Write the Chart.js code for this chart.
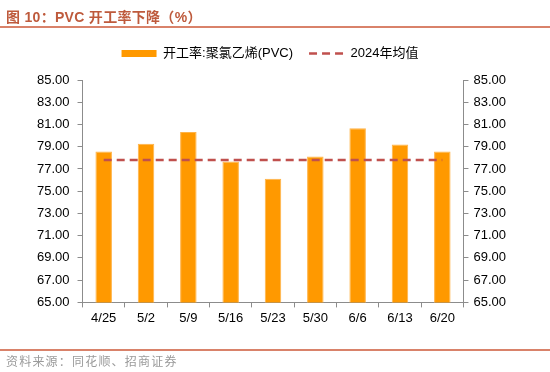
<!DOCTYPE html>
<html><head><meta charset="utf-8">
<script src="https://cdn.jsdelivr.net/npm/chart.js@4/dist/chart.umd.min.js"></script>
<style>
html,body{margin:0;padding:0;background:#fff;}
#wrap{position:relative;width:550px;height:372px;overflow:hidden;}
#title{position:absolute;left:6px;top:6px;font:bold 14px "Liberation Sans","Noto Sans CJK SC",sans-serif;color:#BE5A3C;letter-spacing:0.3px;white-space:nowrap;}
#tline{position:absolute;left:0;top:26px;width:550px;height:2px;background:#D9826A;}
#bline{position:absolute;left:0;top:349px;width:550px;height:2px;background:#D9826A;}
#foot{position:absolute;left:6px;top:352px;font:12px "Noto Sans CJK SC",sans-serif;color:#9a9a9a;letter-spacing:1.2px;white-space:nowrap;}
#c{position:absolute;left:0;top:0;}
</style></head>
<body><div id="wrap">
<canvas id="c" width="550" height="372"></canvas>
<div id="title">图 10：PVC 开工率下降（%）</div>
<div id="tline"></div>
<div id="bline"></div>
<div id="foot">资料来源：同花顺、招商证券</div>
</div>
<script>
const categories = ["4/25","5/2","5/9","5/16","5/23","5/30","6/6","6/13","6/20"];
const pvcRate = [78.58, 79.27, 80.32, 77.66, 76.11, 78.13, 80.67, 79.21, 78.58];
const avg2024 = [77.81, 77.81, 77.81, 77.81, 77.81, 77.81, 77.81, 77.81, 77.81];
const seriesNames = ["开工率:聚氯乙烯(PVC)", "2024年均值"];

const font = {family: '"Liberation Sans","Noto Sans CJK SC",sans-serif', size: 13};
const axisColor = '#8c8c8c';

const legendSpacer = {
  id:'legendSpacer',
  beforeInit(chart){
    const orig = chart.legend.fit;
    chart.legend.fit = function(){ orig.bind(chart.legend)(); this.height += 10; };
  }
};

new Chart(document.getElementById('c'), {
  plugins:[legendSpacer],
  data: {
    labels: categories,
    datasets: [
      {type:'bar', label: seriesNames[0], data: pvcRate, backgroundColor:'#FF9900', borderColor:'#FFB347', borderWidth:{left:1,right:1,top:1,bottom:0},
       categoryPercentage:1, barPercentage:0.39, yAxisID:'y', order:2},
      {type:'line', label: seriesNames[1], data: avg2024, borderColor:'#C0504D', backgroundColor:'#C0504D', borderWidth:2.6,
       borderDash:[8,5], pointRadius:0, fill:false, yAxisID:'y', order:1}
    ]
  },
  options: {
    responsive:false, animation:false,
    layout:{padding:{left:29, right:39, top:31, bottom:43}},
    plugins:{
      tooltip:{enabled:false},
      legend:{
        position:'top',
        labels:{
          font: font, color:'#000', boxHeight:7, usePointStyle:true, pointStyleWidth:35, padding:16,
          generateLabels(chart){
            return chart.data.datasets.map((d,i)=>({
              text:d.label, datasetIndex:i,
              fillStyle: d.backgroundColor, strokeStyle: d.borderColor,
              lineWidth: i===0?0:2.6, lineDash: i===0?[]:[8,5],
              pointStyle: i===0?'rect':'line', fontColor:'#000'
            }));
          }
        }
      }
    },
    scales:{
      x:{
        offset:true,
        grid:{display:true, drawOnChartArea:false, drawTicks:true, tickLength:5, color:axisColor, offset:true},
        border:{color:axisColor, width:1},
        ticks:{font:font, color:'#000', padding:3, maxRotation:0}
      },
      y:{
        position:'left', min:65, max:85,
        afterBuildTicks(s){ s.ticks = []; for(let v=65; v<=85; v+=2) s.ticks.push({value:v}); },
        grid:{display:true, drawOnChartArea:false, tickLength:5, color:axisColor},
        border:{color:axisColor, width:1},
        ticks:{font:font, color:'#000', padding:8, callback:v=>v.toFixed(2)}
      },
      y2:{
        position:'right', min:65, max:85,
        afterBuildTicks(s){ s.ticks = []; for(let v=65; v<=85; v+=2) s.ticks.push({value:v}); },
        grid:{display:true, drawOnChartArea:false, tickLength:5, color:axisColor},
        border:{color:axisColor, width:1},
        ticks:{font:font, color:'#000', padding:5, callback:v=>v.toFixed(2)}
      }
    }
  }
});
</script>
</body></html>
